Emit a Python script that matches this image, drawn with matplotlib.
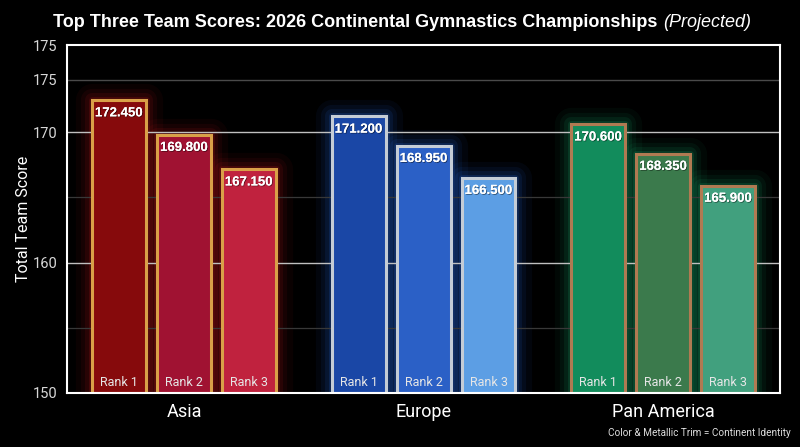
import matplotlib.pyplot as plt
import matplotlib.patheffects as pe

continents = ["Asia", "Europe", "Pan America"]
ranks = ["Rank 1", "Rank 2", "Rank 3"]
scores = {
    "Asia": [172.450, 169.800, 167.150],
    "Europe": [171.200, 168.950, 166.500],
    "Pan America": [170.600, 168.350, 165.900],
}
bar_colors = {
    "Asia": ["#860a0c", "#a01232", "#c0223e"],
    "Europe": ["#1a47a6", "#2b60c6", "#5c9ee4"],
    "Pan America": ["#128c5c", "#3b7a4c", "#41a07e"],
}
trim_colors = {"Asia": "#d9a048", "Europe": "#c4ccd6", "Pan America": "#b07a52"}
glow_colors = {"Asia": "#d01820", "Europe": "#2a70f0", "Pan America": "#18b070"}
ytick_values = [150, 160, 170, 174, 176.67]
ytick_labels = ["150", "160", "170", "175", "175"]

fig = plt.figure(figsize=(8, 4.47), dpi=100, facecolor="black")
ax = fig.add_axes([0.084, 0.121, 0.891, 0.778])
ax.set_facecolor("black")

offsets = [-0.271, 0.0, 0.271]
width = 0.225
base = 150

for gi, cont in enumerate(continents):
    for ri, val in enumerate(scores[cont]):
        x = gi + offsets[ri]
        h = val - base
        # soft glow behind each bar
        for lw, a in [(24, 0.05), (16, 0.07), (10, 0.10), (5, 0.16)]:
            ax.bar(x, h, width, bottom=base, facecolor="none",
                   edgecolor=glow_colors[cont], linewidth=lw, alpha=a,
                   zorder=0.5, joinstyle="round")
        ax.bar(x, h, width, bottom=base, color=bar_colors[cont][ri],
               edgecolor=trim_colors[cont], linewidth=2.2, zorder=2)
        t = ax.text(x, val - 0.55, f"{val:.3f}", ha="center", va="top",
                    color="white", fontsize=9.5, fontweight="bold",
                    family="Liberation Sans", zorder=4)
        t.set_path_effects([pe.withSimplePatchShadow(offset=(0.6, -0.6),
                                                     shadow_rgbFace="black", alpha=0.5),
                            pe.Normal()])
        ax.text(x, base + 0.3, ranks[ri], ha="center", va="bottom",
                color="#e6e6e6", fontsize=9, family="Roboto", zorder=4)

# grid
for y in [155, 165]:
    ax.axhline(y, color="#383838", linewidth=0.9, zorder=1)
for y in [160, 170]:
    ax.axhline(y, color="#c0c0c0", linewidth=1.0, zorder=1)
ax.axhline(174, color="#4a4a4a", linewidth=1.0, zorder=1)

ax.set_xlim(-0.4875, 2.4875)
ax.set_ylim(150, 176.67)
ax.set_yticks(ytick_values)
ax.set_yticklabels(ytick_labels)
ax.set_xticks(range(len(continents)))
ax.set_xticklabels(continents)

for sp in ax.spines.values():
    sp.set_color("white")
    sp.set_linewidth(1.5)
    sp.set_zorder(5)

ax.tick_params(axis="x", length=0, pad=7, colors="white", labelsize=13)
ax.tick_params(axis="y", length=0, pad=7, colors="#d8d8d8", labelsize=10.5)
for lbl in ax.get_xticklabels() + ax.get_yticklabels():
    lbl.set_family("Roboto")

ax.set_ylabel("Total Team Score", color="white", fontsize=11.5,
              family="Roboto", labelpad=1)

# title: bold main part + italic suffix, centred together
title_y = 0.949
main = fig.text(0, title_y, "Top Three Team Scores: 2026 Continental Gymnastics Championships ",
                ha="left", va="center", color="white", fontsize=13,
                fontweight="bold", family="Liberation Sans")
sub = fig.text(0, title_y, "(Projected)", ha="left", va="center", color="white",
               fontsize=13, fontstyle="italic", family="Liberation Sans")
renderer = fig.canvas.get_renderer()
mw = main.get_window_extent(renderer=renderer).width
sw = sub.get_window_extent(renderer=renderer).width
left = (fig.bbox.width - mw - sw) / 2 + 2
main.set_x(left / fig.bbox.width)
sub.set_x((left + mw) / fig.bbox.width)

fig.text(0.988, 0.031, "Color & Metallic Trim = Continent Identity",
         ha="right", va="center", color="#dddddd", fontsize=7.2, family="Roboto")

fig.savefig("out.png", dpi=100, facecolor="black")
